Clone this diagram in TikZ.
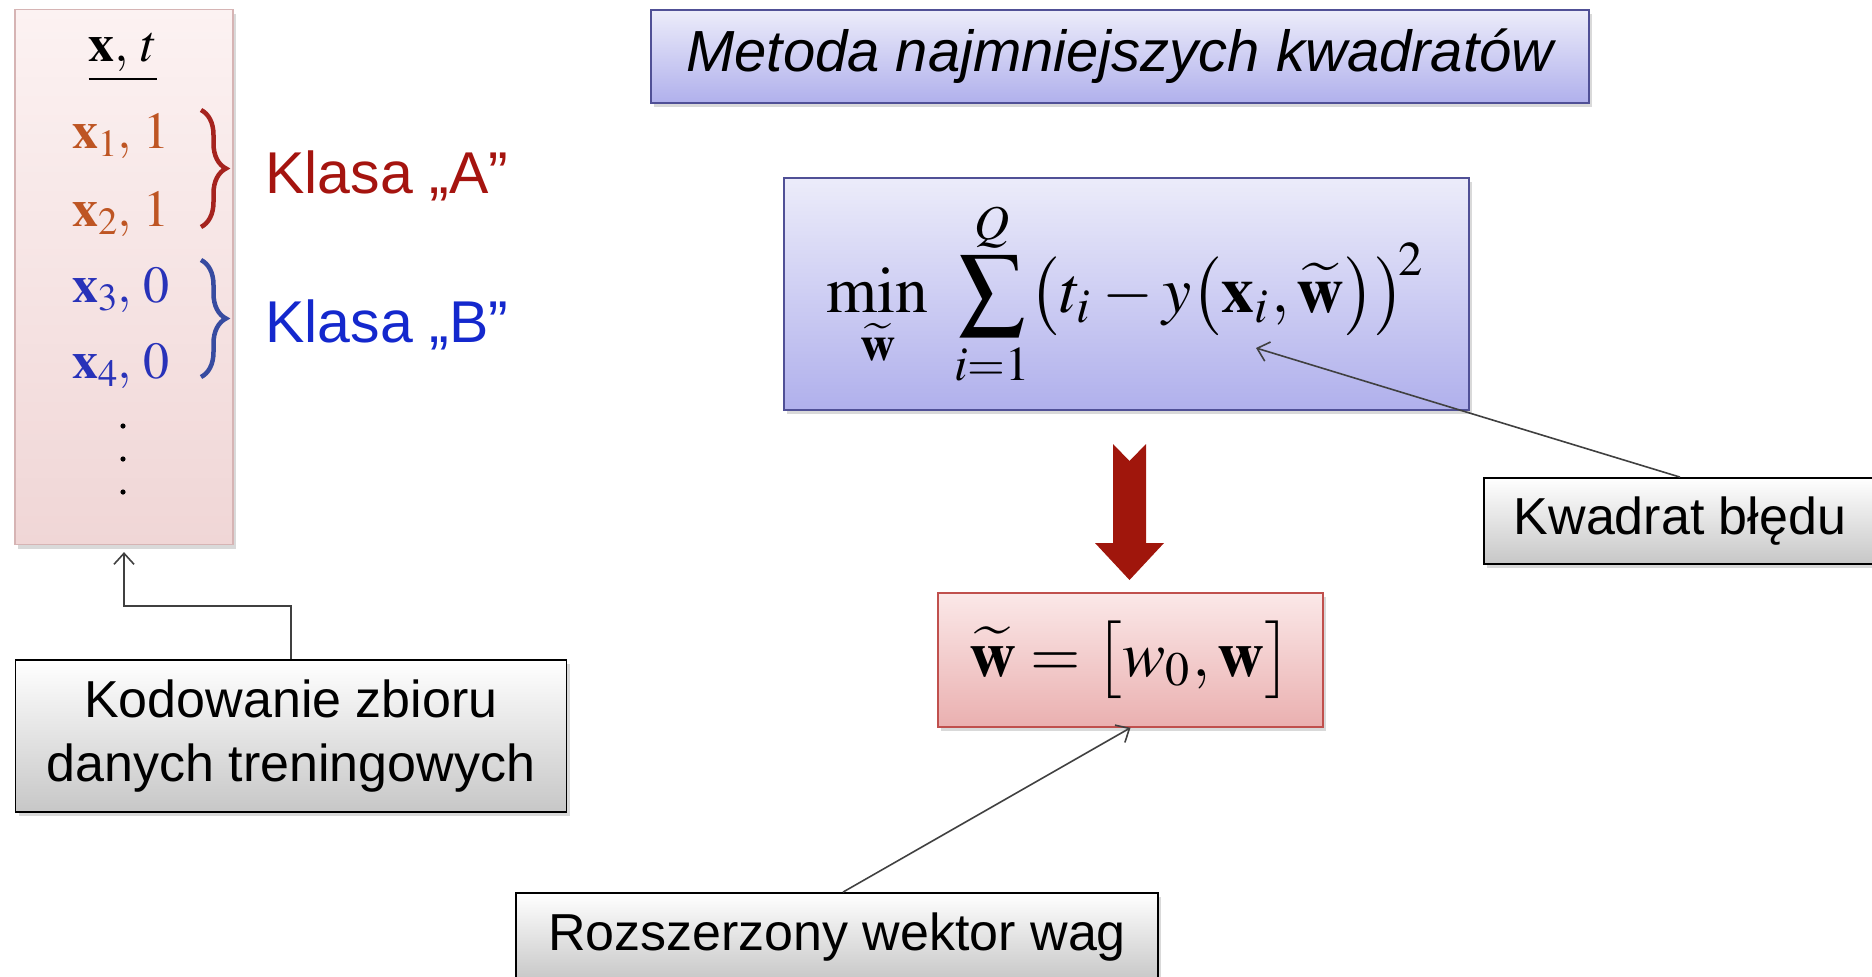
\documentclass[tikz,border=0pt]{standalone}
\usepackage{mathptmx}
\usepackage[no-math]{fontspec}
\setmainfont{Liberation Sans}
\usetikzlibrary{arrows.meta,shadows,decorations.pathreplacing}
\definecolor{pinkT}{RGB}{252,242,242}
\definecolor{pinkB}{RGB}{240,214,214}
\definecolor{pinkD}{RGB}{214,180,180}
\definecolor{lavT}{RGB}{236,236,250}
\definecolor{lavB}{RGB}{176,176,236}
\definecolor{lavD}{RGB}{80,80,150}
\definecolor{wT}{RGB}{251,232,232}
\definecolor{wB}{RGB}{234,176,176}
\definecolor{wD}{RGB}{192,80,77}
\definecolor{orangeX}{RGB}{190,85,35}
\definecolor{redA}{RGB}{165,20,15}
\definecolor{blueX}{RGB}{40,50,185}
\definecolor{blueB}{RGB}{20,40,205}
\definecolor{braceR}{RGB}{165,35,30}
\definecolor{braceB}{RGB}{55,75,160}
\definecolor{arrowR}{RGB}{160,22,12}
\begin{document}
\begin{tikzpicture}[x=1pt,y=-1pt,
  box/.style={draw, rectangle, inner sep=0pt, align=center},
  shad/.style={drop shadow={opacity=0.3, shadow xshift=3pt, shadow yshift=-4pt}},
  graybox/.style={box, shad, draw=black, line width=1.8pt, top color=white, bottom color=black!22, font=\fontsize{52}{64}\selectfont},
  lavbox/.style={box, shad, draw=lavD, line width=1.5pt, top color=lavT, bottom color=lavB},
  conn/.style={draw=black!75, line width=1.6pt, -{Straight Barb[length=11pt,width=20pt]}},
  row/.style={font=\fontsize{52}{56}\selectfont},
  klasa/.style={anchor=west, font=\fontsize{59}{64}\selectfont},
  brc/.style={decorate, decoration={brace, amplitude=25pt}, line width=4.5pt},
]
\useasboundingbox (0,0) rectangle (1872,977);

% left list box
\node[box, shad, draw=pinkD, line width=1.2pt, top color=pinkT, bottom color=pinkB,
      minimum width=218pt, minimum height=535pt] (list) at (124,277) {};
\node[row] (hdr) at (123,58) {$\underline{\mathbf{x},\,t}$};
\node[row, text=orangeX] (r1) at (121,136) {$\mathbf{x}_1,\,1$};
\node[row, text=orangeX] (r2) at (121,214) {$\mathbf{x}_2,\,1$};
\node[row, text=blueX] (r3) at (121,290) {$\mathbf{x}_3,\,0$};
\node[row, text=blueX] (r4) at (121,366) {$\mathbf{x}_4,\,0$};
\fill (123,426) circle (2.6pt) (123,459) circle (2.6pt) (123,492) circle (2.6pt);

% braces
\draw[brc, braceR] (201,110) -- (201,227);
\draw[brc, braceB] (201,260) -- (201,377);
\node[klasa, text=redA] (ka) at (262,176) {Klasa „A”};
\node[klasa, text=blueB] (kb) at (262,325) {Klasa „B”};

% Kodowanie box
\node[graybox, minimum width=551pt, minimum height=152pt] (kod) at (291,736)
  {Kodowanie zbioru\\danych treningowych};
\coordinate (elbow) at (291,606);
\draw[conn] (kod.north) -- (elbow) -| ([yshift=-7pt]list.south);

% title
\node[lavbox, minimum width=938pt, minimum height=93pt,
      font=\fontsize{58}{64}\selectfont\itshape] (title) at (1120,56.5)
  {Metoda najmniejszych kwadratów};

% formula box
\node[lavbox, minimum width=685pt, minimum height=232pt] (form) at (1126.5,294)
  {\resizebox{600pt}{!}{$\displaystyle \min_{\widetilde{\mathbf{w}}}\ \sum_{i=1}^{Q}\bigl(t_i - y\bigl(\mathbf{x}_i, \widetilde{\mathbf{w}}\bigr)\bigr)^{\!2}$}};
\coordinate (errpt) at (1256,348);

% block arrow
\fill[arrowR] (1113,444) -- (1129.5,461) -- (1146,444) -- (1146,543) -- (1164,543)
  -- (1129.5,580) -- (1095,543) -- (1113,543) -- cycle;

% w box
\node[box, shad, draw=wD, line width=1.5pt, top color=wT, bottom color=wB,
      minimum width=385pt, minimum height=134pt] (wbox) at (1130.5,660)
  {\resizebox{322pt}{!}{$\widetilde{\mathbf{w}} = \bigl[w_0, \mathbf{w}\bigr]$}};

% Kwadrat bledu box
\node[graybox, minimum width=392pt, minimum height=86pt] (kw) at (1680,521) {Kwadrat błędu};
\draw[conn] (kw.north) -- (errpt);

% Rozszerzony box
\node[graybox, minimum width=642pt, minimum height=88pt] (roz) at (837,937) {Rozszerzony wektor wag};
\draw[conn] ([xshift=6pt]roz.north) -- (wbox.south);
\end{tikzpicture}
\end{document}
